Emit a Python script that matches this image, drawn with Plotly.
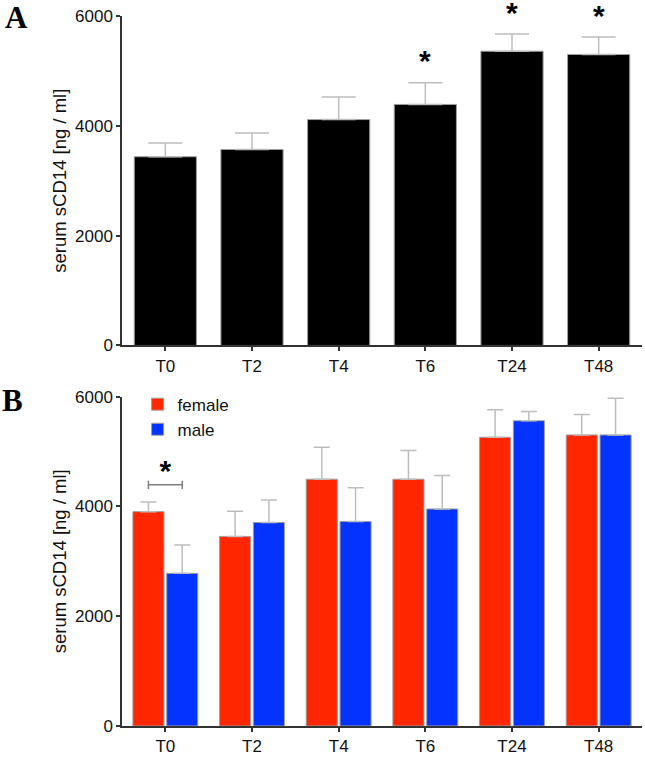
import plotly.graph_objects as go
from plotly.subplots import make_subplots

# time points
times = ['T0', 'T2', 'T4', 'T6', 'T24', 'T48']

# panel A: all subjects (mean, SEM)
all_mean = [3437, 3569, 4114, 4389, 5359, 5299]
all_err = [251, 299, 413, 395, 312, 318]
all_sig = [False, False, False, True, True, True]

# panel B: by sex (mean, SEM)
female_mean = [3904, 3453, 4495, 4495, 5258, 5301]
female_err = [175, 458, 583, 523, 500, 372]
male_mean = [2780, 3706, 3724, 3953, 5560, 5301]
male_err = [518, 410, 614, 608, 167, 668]
sex_sig_time = 0       # index of T0
sex_bracket_y = 4392
sex_star_y = 4590

RED = '#FF2600'
BLUE = '#0433FF'
EDGE = '#a0a0a0'
ERR = '#bdbdbd'
FONT = 'Liberation Sans, Arial, sans-serif'

BARGAP = 0.22
GROUPGAP = 0.08

fig = make_subplots(rows=2, cols=1, vertical_spacing=0.072)

fig.add_trace(go.Bar(
    x=times, y=all_mean, marker=dict(color='black', line=dict(color=EDGE, width=1)),
    error_y=dict(type='data', symmetric=False, array=all_err, arrayminus=[0] * len(times),
                 color=ERR, thickness=1.5, width=17),
    showlegend=False,
), row=1, col=1)

fig.add_trace(go.Bar(
    x=times, y=female_mean, name='female', marker=dict(color=RED, line=dict(color=EDGE, width=1)),
    error_y=dict(type='data', symmetric=False, array=female_err, arrayminus=[0] * len(times),
                 color=ERR, thickness=1.5, width=8),
), row=2, col=1)

fig.add_trace(go.Bar(
    x=times, y=male_mean, name='male', marker=dict(color=BLUE, line=dict(color=EDGE, width=1)),
    error_y=dict(type='data', symmetric=False, array=male_err, arrayminus=[0] * len(times),
                 color=ERR, thickness=1.5, width=8),
), row=2, col=1)

star_font = dict(size=30, color='black', family=FONT)

# asterisks, panel A: just above the error bar
for t, m, e, s in zip(times, all_mean, all_err, all_sig):
    if s:
        fig.add_annotation(x=t, y=m + e, xref='x', yref='y', text='<b>*</b>', showarrow=False,
                           font=star_font, yanchor='middle', yshift=22, borderpad=0)

# bracket + asterisk, panel B (bar centres from the group geometry)
half = (1 - BARGAP) / 4
x0 = sex_sig_time - half
x1 = sex_sig_time + half
tick = 75
fig.add_shape(type='path', xref='x2', yref='y2',
              path=f'M{x0},{sex_bracket_y - tick} V{sex_bracket_y + tick} M{x0},{sex_bracket_y} '
                   f'H{x1} M{x1},{sex_bracket_y - tick} V{sex_bracket_y + tick}',
              line=dict(color='#808080', width=1.5))
fig.add_trace(go.Scatter(
    x=[times[sex_sig_time]], y=[sex_star_y], mode='text', text=['<b>*</b>'],
    textposition='middle center', textfont=star_font, cliponaxis=False,
    showlegend=False, hoverinfo='skip',
), row=2, col=1)

# panel letters
letter_font = dict(size=31, family='Liberation Serif, Times New Roman, serif', color='black')
fig.add_annotation(x=-0.228, y=0.998, xref='paper', yref='paper', text='<b>A</b>', showarrow=False,
                   font=letter_font, xanchor='left', yanchor='middle')
fig.add_annotation(x=-0.234, y=0.458, xref='paper', yref='paper', text='<b>B</b>', showarrow=False,
                   font=letter_font, xanchor='left', yanchor='middle')

axis_style = dict(showline=True, linecolor='#333333', linewidth=1.5, ticks='outside', ticklen=4,
                  tickwidth=1.5, tickcolor='#333333', showgrid=False, zeroline=False,
                  tickfont=dict(size=17, color='#111111', family=FONT))
fig.update_xaxes(**axis_style, range=[-0.5, 5.5])
fig.update_yaxes(**axis_style, range=[0, 6000], tickvals=[0, 2000, 4000, 6000],
                 title=dict(text='serum sCD14 [ng / ml]', font=dict(size=18.5, color='#111111', family=FONT),
                            standoff=4))

fig.update_layout(
    width=645, height=759,
    margin=dict(l=122, r=3, t=16, b=25),
    barmode='group', bargap=BARGAP, bargroupgap=GROUPGAP,
    plot_bgcolor='white', paper_bgcolor='white',
    font=dict(family=FONT),
    legend=dict(x=0.03, y=0.478, xanchor='left', yanchor='top', bgcolor='rgba(0,0,0,0)',
                font=dict(size=17, color='#111111', family=FONT), tracegroupgap=0),
)

# the page's default body margin would shift the figure by 8px
fig.write_html('out.html', config={'displayModeBar': False},
               post_script="document.body.style.margin='0';")
